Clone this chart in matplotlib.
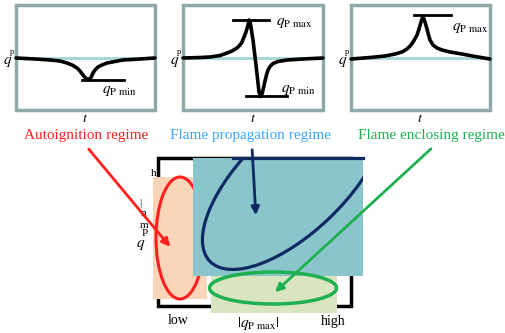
import matplotlib
matplotlib.use("Agg")
import matplotlib.pyplot as plt
from matplotlib.patches import Rectangle, Ellipse

plt.rcParams['font.family'] = ['Liberation Serif', 'DejaVu Serif']
plt.rcParams['mathtext.fontset'] = 'stix'

# top panels: (x, y) points of the heat-release curves, in picture pixels
curve_auto_x = [16, 35, 50, 60, 67, 72, 77, 80, 83, 85, 87, 88.5, 90, 91.5, 93, 95, 98, 102, 107, 115, 123, 140, 155]
curve_auto_y = [58, 59, 60, 61, 63, 65, 68, 71, 75, 77.5, 79, 79.5, 79, 76.5, 73, 70, 67, 65, 63, 61.5, 60, 59, 58]
curve_prop_x = [183, 200, 210, 220, 227, 232, 237, 240, 242, 244, 246, 248, 249, 250, 253, 256, 259, 260.5, 262,
                263.5, 265, 266.5, 268, 270, 273, 278, 287, 295, 303, 323]
curve_prop_y = [58, 57.5, 57, 55.5, 53, 51, 48, 45, 42, 37, 32, 25, 20, 21, 40, 65, 92, 96.5, 94, 88, 81, 75, 70,
                66.5, 63.5, 61.5, 60, 59.5, 59, 58]
curve_encl_x = [351, 370, 385, 395, 402, 407, 411, 414, 417, 419, 421, 423, 425, 427, 428.5, 430, 433, 437, 442,
                450, 462, 475, 490]
curve_encl_y = [59, 57.5, 56, 54, 52, 49, 45, 40.5, 35, 29, 22, 16.5, 22, 29, 35, 40, 45, 48, 50, 52, 54, 56.5, 59]

regime_labels = ["Autoignition regime", "Flame propagation regime", "Flame enclosing regime"]
regime_colors = ["#ff1f1f", "#3aa6ff", "#1fb050"]

fig = plt.figure(figsize=(5.05, 3.33), dpi=100)
ax = fig.add_axes([0, 0, 1, 1])
ax.set_xlim(0, 505)
ax.set_ylim(333, 0)
ax.axis('off')

frame_col = "#8fa8a8"
base_col = "#a8d8dc"
panels = [(16, 155, curve_auto_x, curve_auto_y),
          (183, 323, curve_prop_x, curve_prop_y),
          (351, 490, curve_encl_x, curve_encl_y)]
for x0, x1, cx, cy in panels:
    ax.add_patch(Rectangle((x0, 5), x1 - x0, 105, fill=False, ec=frame_col, lw=2.5))
    ax.plot([x0, x1], [58, 58], color=base_col, lw=2.2)
    ax.plot(cx, cy, color='black', lw=2.6, solid_capstyle='round', solid_joinstyle='round')
    ax.text(x0 - 8, 62, "$q$", fontsize=11, ha='center', va='center')
    ax.text(x0 - 4, 52, "p", fontsize=6, ha='center', va='center')
    ax.text((x0 + x1) / 2, 119, "$t$", fontsize=10, ha='center', va='center')

# min/max marker bars
ax.plot([82, 124], [80, 80], color='black', lw=2)
ax.text(102, 91, r"$q_{\mathrm{P\ min}}$", fontsize=11, ha='left', va='center')
ax.plot([233, 269], [20, 20], color='black', lw=2)
ax.text(276, 23, r"$q_{\mathrm{P\ max}}$", fontsize=11, ha='left', va='center')
ax.plot([246, 287], [96, 96], color='black', lw=2)
ax.text(281, 90, r"$q_{\mathrm{P\ min}}$", fontsize=11, ha='left', va='center')
ax.plot([414, 451], [15, 15], color='black', lw=2)
ax.text(452, 28, r"$q_{\mathrm{P\ max}}$", fontsize=11, ha='left', va='center')

# regime labels
ax.text(86, 136, regime_labels[0], color=regime_colors[0], fontsize=11, ha='center', va='center')
ax.text(251, 136, regime_labels[1], color=regime_colors[1], fontsize=11, ha='center', va='center')
ax.text(431, 136, regime_labels[2], color=regime_colors[2], fontsize=11, ha='center', va='center')

# bottom regime map
ax.add_patch(Rectangle((158, 158), 193, 148, fill=False, ec='black', lw=2.5, zorder=1))
for s, (xx, yy) in zip(["h", "|", "n", "m", "P"], [(154, 173), (140, 204), (144, 213), (144, 225), (145, 233)]):
    ax.text(xx, yy, s, fontsize=8, ha='center', va='center', zorder=1)
ax.text(141, 245, "$q$", fontsize=11, ha='center', va='center', zorder=1)
ax.add_patch(Rectangle((153, 177), 54, 122, fc='#fbd5b7', ec='none', zorder=2))
ax.add_patch(Ellipse((180, 238), 48, 122, fill=False, ec=regime_colors[0], lw=2.2, zorder=3))
ax.add_patch(Rectangle((211, 270), 126, 43, fc='#d9e5c0', ec='none', zorder=2))
teal = Rectangle((193, 158), 170, 118, fc='#8bc5cc', ec='none', zorder=4)
ax.add_patch(teal)
navy = Ellipse((294, 180), 234, 104, angle=-44, fill=False, ec='#0d2a63', lw=2.3, zorder=5)
ax.add_patch(navy)
navy.set_clip_path(teal)
ax.plot([233, 363], [158, 158], color='#0d2a63', lw=2.3, zorder=5)
ax.add_patch(Ellipse((273, 288), 127, 32, fill=False, ec=regime_colors[2], lw=2.5, zorder=5))

ax.text(178, 321, "low", fontsize=10, ha='center', va='center')
ax.text(333, 321, "high", fontsize=10, ha='center', va='center')
ax.text(258, 324, r"$|q_{\mathrm{P\ max}}|$", fontsize=11, ha='center', va='center')

# arrows
arrow_kw = dict(lw=2, mutation_scale=12)
ax.annotate("", xy=(172, 249), xytext=(87, 147),
            arrowprops=dict(arrowstyle='-|>', color=regime_colors[0], **arrow_kw), zorder=6)
ax.annotate("", xy=(256, 218), xytext=(252, 147),
            arrowprops=dict(arrowstyle='-|>', color='#0d2a63', **arrow_kw), zorder=6)
ax.annotate("", xy=(273, 294), xytext=(433, 147),
            arrowprops=dict(arrowstyle='-|>', color=regime_colors[2], **arrow_kw), zorder=6)

fig.savefig("out.png", dpi=100)
